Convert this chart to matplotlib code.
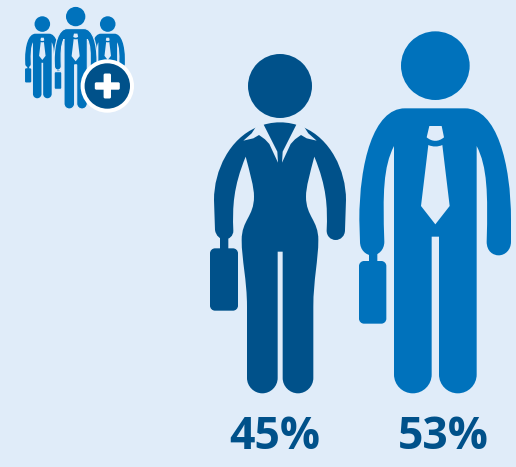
import matplotlib
matplotlib.use("Agg")
import matplotlib.pyplot as plt
from matplotlib.path import Path
from matplotlib.patches import PathPatch
from matplotlib.transforms import Affine2D

genders = ["women", "men"]
shares = [45, 53]
label_x = [274.7, 443.0]

BG = "#E0ECF9"
DARK = "#00518A"
BLUE = "#0072BC"


def outline(start, *segs):
    # one point in a segment is a straight line, three are a cubic curve
    verts = [start]
    codes = [Path.MOVETO]
    for s in segs:
        verts.extend(s)
        codes.extend([Path.LINETO] if len(s) == 1 else [Path.CURVE4] * 3)
    verts.append(start)
    codes.append(Path.CLOSEPOLY)
    return Path(verts, codes)


def round_rect(x0, y0, x1, y1, r):
    k = r * 0.45
    return outline(
        (x0 + r, y0),
        [(x1 - r, y0)], [(x1 - k, y0), (x1, y0 + k), (x1, y0 + r)],
        [(x1, y1 - r)], [(x1, y1 - k), (x1 - k, y1), (x1 - r, y1)],
        [(x0 + r, y1)], [(x0 + k, y1), (x0, y1 - k), (x0, y1 - r)],
        [(x0, y0 + r)], [(x0, y0 + k), (x0 + k, y0), (x0 + r, y0)],
    )


def add(ax, path, color, tr=None, edge="none", lw=0):
    t = ax.transData if tr is None else tr + ax.transData
    ax.add_patch(PathPatch(path, facecolor=color, edgecolor=edge, linewidth=lw, transform=t))


MAN_BODY = outline(
    (165, 265),
    [(345, 265)], [(440, 265), (483, 430), (483, 600)], [(483, 665)],
    [(483, 690), (465, 706), (446, 706)], [(430, 706), (410, 695), (410, 665)],
    [(414, 520), (412, 440), (380, 378)], [(380, 1063.5)],
    [(380, 1094.7), (354.7, 1120), (323.5, 1120)], [(292.3, 1120), (267, 1094.7), (267, 1063.5)],
    [(267, 650)], [(245, 650)], [(245, 1063.5)],
    [(245, 1094.7), (219.7, 1120), (188.5, 1120)], [(157.3, 1120), (132, 1094.7), (132, 1063.5)],
    [(132, 378)], [(100, 440), (98, 520), (103, 665)],
    [(103, 690), (85, 706), (66, 706)], [(48, 706), (30, 690), (30, 665)],
    [(28, 600)], [(28, 430), (70, 265), (165, 265)],
)
MAN_KNOT = outline(
    (238, 318),
    [(275, 318)], [(282, 352)], [(265, 366), (247, 366), (230, 352)],
)
MAN_TIE = outline(
    (235, 375),
    [(248, 381), (264, 381), (277, 375)], [(299, 558)], [(256, 613)], [(213, 558)],
)

WOMAN_BODY = outline(
    (170, 262),
    [(215, 242), (265, 242), (310, 262)], [(390, 295), (438, 390), (438, 480)], [(435, 570)],
    [(435, 588), (422, 600), (407, 600)], [(392, 600), (379, 588), (380, 570)],
    [(383, 500), (380, 440), (343, 350)], [(330, 400), (318, 440), (318, 470)],
    [(318, 530), (355, 540), (355, 600)], [(355, 660), (340, 720), (340, 800)], [(340, 1014)],
    [(340, 1039), (319, 1060), (294, 1060)], [(269, 1060), (248, 1039), (248, 1014)],
    [(248, 635)], [(233, 635)], [(233, 1014)],
    [(233, 1039), (212, 1060), (187, 1060)], [(162, 1060), (141, 1039), (141, 1014)],
    [(141, 800)], [(141, 720), (125, 660), (125, 600)], [(125, 540), (162, 530), (162, 470)],
    [(162, 440), (150, 400), (137, 350)], [(100, 440), (97, 500), (100, 572)],
    [(100, 588), (88, 598), (74, 598)], [(60, 598), (48, 588), (45, 570)],
    [(42, 480)], [(42, 390), (90, 295), (170, 262)],
)
COLLAR_L = [(168, 260), (190, 252), (232, 335), (234, 368), (208, 312), (195, 298),
            (177, 285), (160, 295), (130, 302), (155, 280)]
COLLAR_R = [(312, 260), (290, 252), (248, 335), (246, 368), (272, 312), (285, 298),
            (303, 285), (320, 295), (350, 302), (325, 280)]


def draw_man(ax, tr, color, gap=0):
    add(ax, Path.circle((256, 137), 103), color, tr)
    edge = BG if gap else "none"
    add(ax, round_rect(57, 695, 82, 730, 1), color, tr)
    add(ax, round_rect(27, 723, 109, 911, 15), color, tr, edge, gap)
    add(ax, MAN_BODY, color, tr, edge, gap)
    add(ax, MAN_KNOT, BG, tr)
    add(ax, MAN_TIE, BG, tr)


def draw_woman(ax, tr, color):
    add(ax, Path.circle((240, 138), 96), color, tr)
    add(ax, round_rect(60, 590, 85, 630, 1), color, tr)
    add(ax, round_rect(30, 625, 114, 812, 15), color, tr)
    add(ax, WOMAN_BODY, color, tr)
    for c in (COLLAR_L, COLLAR_R):
        add(ax, outline(c[0], *[[p] for p in c[1:]]), BG, tr)


plt.rcParams['font.family'] = ['Open Sans', 'DejaVu Sans']

fig = plt.figure(figsize=(5.16, 4.67), dpi=100, facecolor=BG)
ax = fig.add_axes([0, 0, 1, 1])
ax.set_xlim(0, 516)
ax.set_ylim(467, 0)
ax.axis("off")

draw_woman(ax, Affine2D().scale(1 / 3).translate(200, 40), DARK)
draw_man(ax, Affine2D().scale(1 / 3).translate(350, 20), BLUE)

for x, v in zip(label_x, shares):
    ax.text(x, 449.3, "%d%%" % v, color=DARK, fontsize=32, fontweight="bold",
            ha="center", va="baseline")

# small group icon with the plus badge
draw_man(ax, Affine2D().scale(0.0755).translate(23, 13.7), BLUE)
draw_man(ax, Affine2D().scale(0.0755).translate(88.4, 13.7), BLUE)
draw_man(ax, Affine2D().scale(0.094).translate(51.6, 3.7), BLUE, gap=0.8)
add(ax, Path.circle((107.3, 86), 26.7), "white")
add(ax, Path.circle((107.3, 86), 22.7), DARK)
add(ax, round_rect(94.8, 82.3, 119.8, 89.7, 1.5), "white")
add(ax, round_rect(103.6, 73.5, 111, 98.5, 1.5), "white")

fig.savefig("out.png", dpi=100, facecolor=BG)
